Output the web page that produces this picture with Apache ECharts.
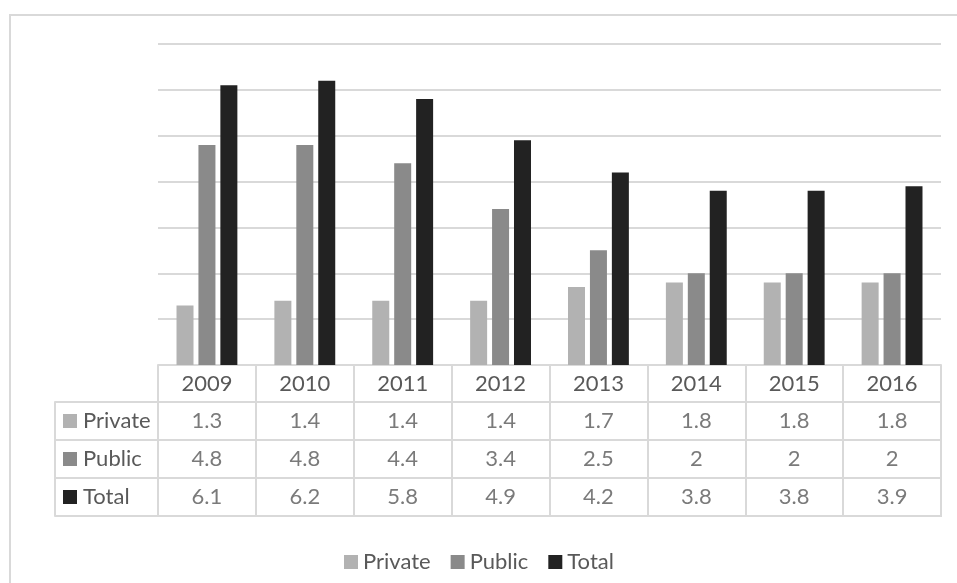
<!DOCTYPE html>
<html>
<head>
<meta charset="utf-8">
<script src="https://cdn.jsdelivr.net/npm/echarts@6/dist/echarts.min.js"></script>
<style>
html,body{margin:0;padding:0;background:#fff;}
#chart{width:957px;height:583px;}
</style>
</head>
<body>
<div id="chart"></div>
<script>
const years = ['2009','2010','2011','2012','2013','2014','2015','2016'];
const seriesNames = ['Private','Public','Total'];
const privateVals = [1.3,1.4,1.4,1.4,1.7,1.8,1.8,1.8];
const publicVals  = [4.8,4.8,4.4,3.4,2.5,2,2,2];
const totalVals   = [6.1,6.2,5.8,4.9,4.2,3.8,3.8,3.9];
const colors = ['#b2b2b2','#8a8a8a','#222222'];

const FONT = 'Lato';
const TXT = '#595959';
const LINE = '#d9d9d9';
const FS = 22;

const rows = [privateVals, publicVals, totalVals];
const cellData = [];
rows.forEach((arr, r) => arr.forEach((v, i) => cellData.push([i, r, v])));

const rich = { t: { fontFamily: FONT, fontSize: FS, color: TXT, padding: [0,0,0,6] } };
colors.forEach((c, i) => { rich['sq' + i] = { width: 14, height: 14, backgroundColor: c }; });

const chart = echarts.init(document.getElementById('chart'), null, { renderer: 'canvas' });
chart.setOption({
  animation: false,
  textStyle: { fontFamily: FONT },
  color: colors,
  graphic: [{
    type: 'rect', silent: true,
    shape: { x: 10, y: 15, width: 1200, height: 1200 },
    style: { fill: 'none', stroke: LINE, lineWidth: 2 }
  }],
  legend: {
    data: seriesNames,
    left: 339, top: 546,
    icon: 'rect', itemWidth: 14, itemHeight: 14, itemGap: 20,
    textStyle: { fontFamily: FONT, fontSize: FS, color: TXT, lineHeight: 22 }
  },
  grid: [
    { left: 158, right: 16, top: 44, bottom: 218 },
    { left: 158, right: 16, top: 402, bottom: 67, show: true, borderColor: LINE, borderWidth: 2 }
  ],
  xAxis: [
    {
      type: 'category', gridIndex: 0, data: years,
      axisLine: { show: true, lineStyle: { color: LINE, width: 2 } },
      axisTick: { show: true, length: 37, lineStyle: { color: LINE, width: 2 } },
      axisLabel: { fontFamily: FONT, fontSize: FS, color: TXT, margin: 8 },
      splitLine: { show: false }
    },
    {
      type: 'category', gridIndex: 1, data: years,
      axisLine: { show: false }, axisTick: { show: false }, axisLabel: { show: false },
      splitLine: { show: true, lineStyle: { color: LINE, width: 2 } }
    }
  ],
  yAxis: [
    {
      type: 'value', gridIndex: 0, min: 0, max: 7, interval: 1,
      axisLabel: { show: false }, axisLine: { show: false }, axisTick: { show: false },
      splitLine: { show: true, lineStyle: { color: LINE, width: 2 } }
    },
    {
      type: 'category', gridIndex: 1, data: seriesNames, inverse: true,
      axisLine: { show: false },
      axisTick: { show: true, length: 103, lineStyle: { color: LINE, width: 2 } },
      axisLabel: {
        align: 'left', margin: 95,
        formatter: (v) => '{sq' + seriesNames.indexOf(v) + '|}{t|' + v + '}',
        rich: rich
      },
      splitLine: { show: true, lineStyle: { color: LINE, width: 2 } }
    },
    {
      type: 'category', gridIndex: 1, data: seriesNames, inverse: true, position: 'left', offset: 103,
      axisLine: { show: true, lineStyle: { color: LINE, width: 2 } },
      axisTick: { show: false }, axisLabel: { show: false }, splitLine: { show: false }
    }
  ],
  series: [
    { name: 'Private', type: 'bar', xAxisIndex: 0, yAxisIndex: 0, data: privateVals, barWidth: 17, barGap: '29%' },
    { name: 'Public',  type: 'bar', xAxisIndex: 0, yAxisIndex: 0, data: publicVals,  barWidth: 17, barGap: '29%' },
    { name: 'Total',   type: 'bar', xAxisIndex: 0, yAxisIndex: 0, data: totalVals,   barWidth: 17, barGap: '29%' },
    {
      name: 'cells', type: 'scatter', xAxisIndex: 1, yAxisIndex: 1, silent: true,
      symbolSize: 1, itemStyle: { color: 'rgba(0,0,0,0)' },
      data: cellData,
      label: {
        show: true, position: 'inside', formatter: (p) => String(p.value[2]),
        fontFamily: FONT, fontSize: FS, color: TXT
      }
    }
  ]
});
</script>
</body>
</html>
